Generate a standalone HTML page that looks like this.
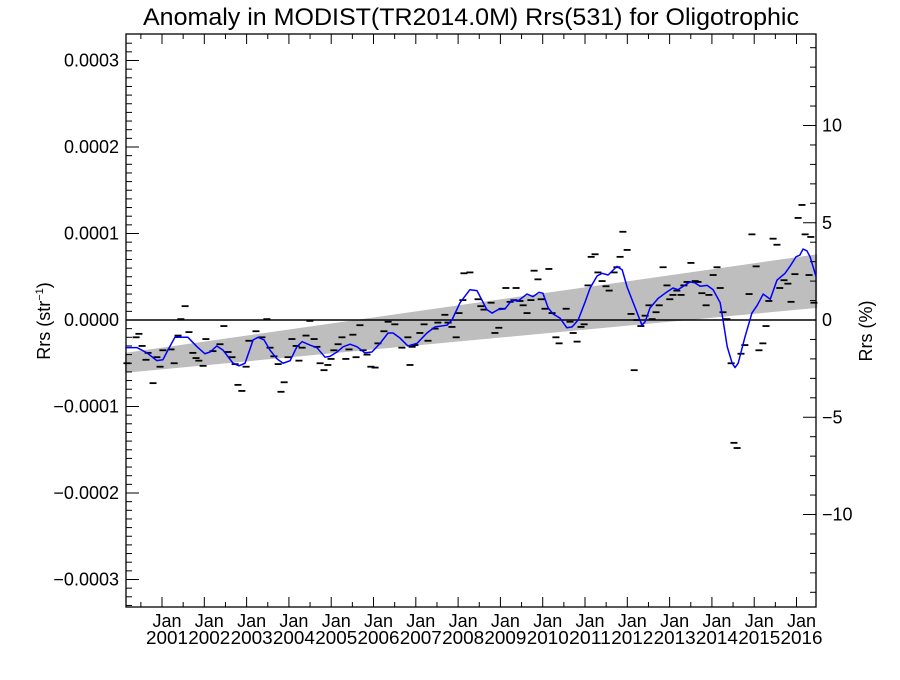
<!DOCTYPE html>
<html><head><meta charset="utf-8"><style>
html,body{margin:0;padding:0;background:#fff}
svg text{font-family:"Liberation Sans",Arial,sans-serif;fill:#000}
</style></head><body>
<svg id="chart" width="900" height="675" viewBox="0 0 900 675" xmlns="http://www.w3.org/2000/svg">
<text x="471" y="25" font-size="24" text-anchor="middle" textLength="656" lengthAdjust="spacingAndGlyphs">Anomaly in MODIST(TR2014.0M) Rrs(531) for Oligotrophic</text>
<g id="band"></g>
<g id="axes"></g>
<g id="dashes"></g>
<g id="smooth"></g>
<text transform="translate(50,321) rotate(-90)" font-size="18" text-anchor="middle">Rrs (str<tspan font-size="11" dy="-7">−1</tspan><tspan dy="7">)</tspan></text>
<text transform="translate(872,331) rotate(-90)" font-size="18" text-anchor="middle">Rrs (%)</text>
</svg>
<script>
// months since Jan 2000, anomaly in units of 1e-6 str^-1
const dashMonths=[-0.5,2.1,2.9,3.8,4.9,5.5,6.9,8.0,8.9,9.7,12.0,12.9,14.0,14.8,16.0,17.1,18.2,19.1,19.9,21.1,21.9,23.9,25.9,27.0,28.2,29.3,30.2,31.0,32.1,33.3,34.1,36.1,37.8,39.2,40.1,41.2,42.4,43.2,44.1,45.2,46.3,47.5,48.3,49.2,50.3,51.4,52.6,53.4,54.3,55.4,56.5,57.4,58.2,59.4,60.5,61.6,62.5,63.6,64.5,65.6,66.5,67.6,68.7,69.9,70.7,72.4,73.6,75.5,77.5,79.2,79.8,80.4,81.2,82.6,83.8,84.9,86.9,87.7,89.7,90.6,91.7,92.9,93.7,94.8,95.1,96.8,99.1,99.9,100.8,102.8,103.9,105.0,105.9,107.0,108.2,109.3,109.9,111.0,111.9,113.0,114.1,115.0,116.1,117.0,118.1,119.2,120.1,121.2,122.1,124.1,125.2,126.1,127.2,128.3,129.2,130.3,131.2,132.3,133.1,134.3,135.4,136.3,137.7,138.5,139.4,140.2,141.4,142.5,143.4,144.2,145.3,146.5,147.6,148.5,149.6,150.5,151.6,152.7,153.5,154.4,155.5,156.7,157.5,158.4,159.5,160.7,161.5,162.6,163.8,164.6,165.8,166.9,167.8,168.6,169.7,170.9,171.7,172.6,173.7,174.8,176.0,176.8,178.0,178.8,179.9,180.8,181.6,182.8,183.9,184.7,185.9,187.0,187.9,189.0,189.9,191.0,191.9,193.0,193.5,194.4];
const dashValues=[-50,-20,-16,-30,-46,-38,-73,-43,-54,-35,-34,-50,-18,1,16,-14,-38,-44,-47,-53,-22,-36,-28,-7,-37,-43,-51,-75,-82,-54,-24,-13,-20,1,-32,-42,-51,-83,-72,-43,-22,-30,-47,-32,-18,-1,-22,-31,-50,-58,-52,-45,-35,-28,-20,-45,-34,-17,-43,-6,-35,-40,-54,-55,-27,-13,-2,-5,-32,-20,-52,-31,-29,-15,-5,-24,-10,-3,6,-3,-8,-20,8,23,54,55,24,16,12,20,-15,-9,13,37,21,23,37,22,17,8,23,57,47,24,13,59,8,-20,-27,13,-2,-15,-25,-8,-5,40,73,76,55,45,39,34,55,61,73,102,81,7,-58,0,-7,5,17,1,9,17,61,40,24,29,34,29,40,44,66,45,44,31,17,29,52,61,37,9,1,-50,-142,-148,-39,-29,30,99,62,-35,-27,-7,22,94,87,37,46,42,21,53,118,133,99,52,96,20];
const smoothMonths=[-1,2.4,5.2,8.0,9.7,11.1,13.1,15.1,16.8,19.4,21.6,23.1,25.0,26.8,29.6,31.3,33.0,35.3,36.7,38.4,40.1,42.1,43.8,45.8,47.7,49.2,51.4,53.4,55.7,57.1,59.1,60.8,62.8,64.8,67.0,69.0,71.3,73.6,75.0,77.0,79.2,81.8,84.6,86.9,90.3,91.7,94.0,96.8,98.8,100.2,101.6,103.1,104.8,106.8,108.7,110.4,113.0,114.7,116.4,117.5,119.0,120.4,122.4,124.3,125.8,127.5,129.4,130.9,132.9,134.3,136.0,138.5,140.0,141.4,143.6,145.6,146.5,147.9,150.2,152.2,154.4,155.8,159.2,160.6,162.1,164.1,165.8,167.8,168.6,169.8,171.2,172.0,172.9,174.8,176.8,178.3,180.0,182.0,183.9,186.2,187.6,189.3,190.4,191.3,192.4,193.3,194.2,195.0];
const smoothValues=[-32,-32,-38,-47,-46,-35,-20,-20,-20,-31,-39,-37,-30,-35,-50,-53,-50,-23,-20,-23,-35,-45,-50,-47,-31,-25,-29,-32,-43,-42,-37,-31,-28,-31,-38,-37,-27,-15,-15,-21,-30,-27,-15,-8,-6,0,20,35,34,23,12,8,12,13,23,22,30,27,32,31,14,7,2,-9,-8,0,20,37,51,54,52,62,58,38,15,-6,-2,14,25,31,37,35,44,43,39,40,35,20,0,-31,-50,-55,-50,-20,8,17,30,24,46,54,62,73,75,82,80,73,61,50];
const trendMonths=[-1.05,195.3];
const trendUpper=[-38,76];
const trendLower=[-61,14];
const leftTicks=[-0.0003,-0.0002,-0.0001,0,0.0001,0.0002,0.0003];
const leftTickLabels=["\u22120.0003","\u22120.0002","\u22120.0001","0.0000","0.0001","0.0002","0.0003"];
const rightTicks=[-10,-5,0,5,10];
const rightTickLabels=["\u221210","\u22125","0","5","10"];
const yearLabels=["2001","2002","2003","2004","2005","2006","2007","2008","2009","2010","2011","2012","2013","2014","2015","2016"];

const L=126,R=816,T=34,B=607,Y0=320,PXV=865000,PXP=19.45;
const x=m=>128.7+m*3.525;
const y=v=>Y0-v*PXV;
const yu=u=>y(u*1e-6);
const yp=p=>Y0-p*PXP;
const NS="http://www.w3.org/2000/svg";
function mk(tag,attrs,parent){const e=document.createElementNS(NS,tag);for(const k in attrs)e.setAttribute(k,attrs[k]);parent.appendChild(e);return e;}

const band=document.getElementById('band');
const poly=mk('polygon',{points:`${x(trendMonths[0])},${yu(trendUpper[0])} ${x(trendMonths[1])},${yu(trendUpper[1])} ${x(trendMonths[1])},${yu(trendLower[1])} ${x(trendMonths[0])},${yu(trendLower[0])}`,fill:'#bebebe'},band);



const ax=document.getElementById('axes');
const zl=mk('line',{x1:L,x2:R,y1:Y0,y2:Y0,stroke:'#000','stroke-width':1.5},ax);


const fr=mk('rect',{x:L,y:T,width:R-L,height:B-T,fill:'none',stroke:'#000','stroke-width':1.3},ax);


for(let k=-33;k<=32;k++){const yy=y(k*1e-5);if(yy<T||yy>B)continue;const major=(k%10===0);
 const t=mk('line',{x1:L,x2:L+(major?13:6),y1:yy,y2:yy,stroke:'#000','stroke-width':1},ax);
 
 }
leftTicks.forEach((v,i)=>{const t=mk('text',{x:L-7,y:y(v)+6,'font-size':18,'text-anchor':'end'},ax);t.textContent=leftTickLabels[i];
 
 });
for(let k=-14;k<=14;k++){const yy=yp(k);if(yy<T||yy>B)continue;const major=(k%5===0);
 const t=mk('line',{x1:R,x2:R-(major?13:6),y1:yy,y2:yy,stroke:'#000','stroke-width':1},ax);
 
 }
rightTicks.forEach((v,i)=>{const t=mk('text',{x:R+6,y:yp(v)+6,'font-size':18,'text-anchor':'start'},ax);t.textContent=rightTickLabels[i];
 
 });
const janOffset=9.45;
for(let k=-1;k<=16;k++){
 const mj=janOffset+12*k, mn=mj+6;
 [[mj,10],[mn,5]].forEach(([m,len])=>{const xx=x(m);if(xx<=L||xx>=R)return;
  const b=mk('line',{x1:xx,x2:xx,y1:B,y2:B-len,stroke:'#000','stroke-width':1},ax);
  
  
  const t=mk('line',{x1:xx,x2:xx,y1:T,y2:T+len,stroke:'#000','stroke-width':1},ax);
  
  });
}
yearLabels.forEach((lab,i)=>{const xx=x(janOffset+12*i);
 const a=mk('text',{x:xx+5,y:627,'font-size':18,'text-anchor':'middle'},ax);a.textContent='Jan';
 
 
 const b=mk('text',{x:xx+5,y:644,'font-size':18,'text-anchor':'middle','textLength':42,'lengthAdjust':'spacingAndGlyphs'},ax);b.textContent=lab;
 
 });

const dg=document.getElementById('dashes');
dashMonths.forEach((m,i)=>{const xx=x(m),yy=yu(dashValues[i]);
 const d=mk('line',{x1:xx-3.5,x2:xx+3.5,y1:yy,y2:yy,stroke:'#000','stroke-width':1.8},dg);
 
 });

const sg=document.getElementById('smooth');
const pl=mk('polyline',{points:smoothMonths.map((m,i)=>`${x(m)},${yu(smoothValues[i])}`).join(' '),fill:'none',stroke:'#0000ff','stroke-width':1.5,'stroke-linejoin':'round'},sg);


</script>
</body></html>
